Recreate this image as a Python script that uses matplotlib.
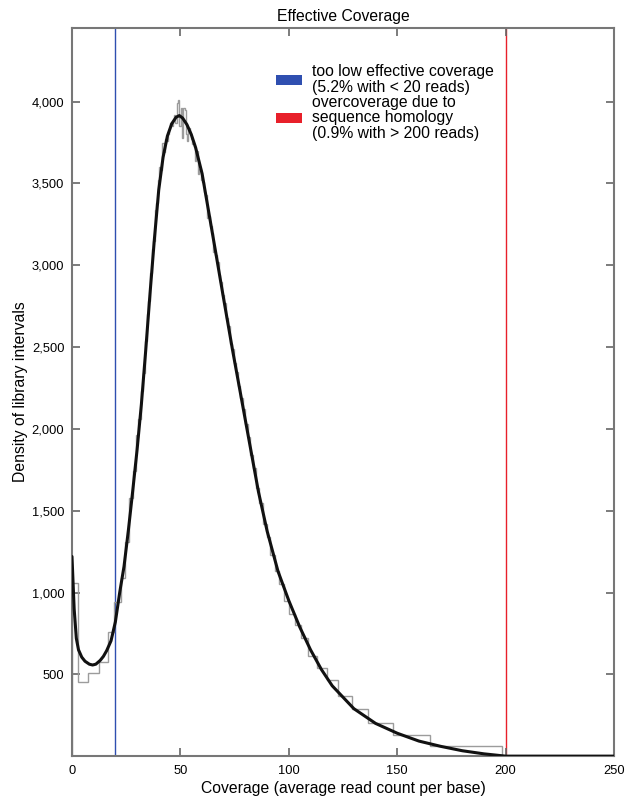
import matplotlib
matplotlib.use("Agg")
import matplotlib.pyplot as plt
from matplotlib.patches import Patch
from matplotlib.ticker import FuncFormatter

plt.rcParams['font.family'] = ['Liberation Sans', 'DejaVu Sans']

# histogram of interval coverage (variable-width bins)
bin_edges = [0, 2.8, 7.5, 12.5, 16.8, 19.6, 22.4, 24.6, 26.4, 28.0, 29.3,
             30.5, 31.6, 32.6, 33.5, 34.4, 35.2, 36.0, 36.8, 37.5, 38.2,
             38.9, 39.6, 40.3, 41.0, 41.7, 42.3, 42.9, 43.5, 44.1, 44.7,
             45.3, 45.9, 46.5, 47.1, 47.7, 48.3, 48.9, 49.5, 50.1, 50.7,
             51.3, 51.9, 52.5, 53.1, 53.7, 54.3, 54.9, 55.5, 56.1, 56.7,
             57.3, 58.0, 58.7, 59.4, 60.1, 60.8, 61.5, 62.2, 62.9, 63.6,
             64.4, 65.2, 66.0, 66.8, 67.6, 68.4, 69.2, 70.0, 70.9, 71.8,
             72.7, 73.6, 74.6, 75.6, 76.6, 77.6, 78.7, 79.8, 81.0, 82.2,
             83.5, 84.9, 86.4, 88.0, 89.7, 91.5, 93.4, 95.5, 97.7, 100.1,
             102.8, 105.7, 108.9, 112.9, 117.8, 122.8, 129.0, 136.7, 148.2,
             165.1, 198.2]
bin_heights = [1060, 455, 508, 577, 761, 944, 1090, 1310, 1580, 1740,
               1960, 2060, 2230, 2340, 2540, 2700, 2780, 2950, 3100, 3150,
               3340, 3380, 3520, 3600, 3580, 3750, 3690, 3770, 3760, 3800,
               3830, 3870, 3850, 3880, 3920, 3870, 3990, 4010, 3850, 3960,
               3780, 3960, 3950, 3800, 3760, 3840, 3800, 3770, 3740, 3720,
               3640, 3700, 3560, 3590, 3520, 3510, 3450, 3430, 3290, 3300,
               3240, 3200, 3080, 3060, 3020, 2940, 2900, 2820, 2770, 2680,
               2630, 2520, 2490, 2400, 2350, 2260, 2190, 2120, 2030, 1950,
               1840, 1760, 1640, 1550, 1420, 1340, 1230, 1130, 1050, 950,
               870, 800, 720, 610, 537, 465, 367, 291, 204, 128, 63]

# smoothed density estimate
curve_x = [0, 1, 2, 3, 4.5, 6, 8, 9.5, 11, 13, 14.5, 16, 18, 20, 22, 24,
           26, 28, 30, 32, 34, 36, 38, 40, 42, 44, 46, 48, 49.5, 51, 53,
           55, 57, 60, 63, 66, 70, 74, 78, 82, 86, 90, 95, 100, 105, 110,
           115, 120, 130, 140, 150, 160, 170, 180, 190, 200, 250]
curve_y = [1220, 900, 720, 650, 605, 580, 562, 557, 562, 585, 610, 645,
           705, 820, 1000, 1160, 1380, 1620, 1870, 2150, 2480, 2830, 3160,
           3460, 3660, 3790, 3865, 3905, 3915, 3900, 3860, 3800, 3720,
           3560, 3330, 3100, 2790, 2485, 2195, 1905, 1615, 1375, 1130, 950,
           790, 650, 530, 430, 290, 200, 140, 92, 60, 33, 14, 0, 0]

low_cut = 20
high_cut = 200
legend_labels = ["too low effective coverage\n(5.2% with < 20 reads)",
                 "overcoverage due to\nsequence homology\n(0.9% with > 200 reads)"]

blue = "#2f4fb0"
red = "#e8202a"

fig = plt.figure(figsize=(6.26, 8.01), dpi=100)
ax = fig.add_axes([0.115, 0.056, 0.866, 0.909])

ax.stairs(bin_heights, bin_edges, color="#9c9c9c", lw=1.0, zorder=2)
ax.plot(curve_x, curve_y, color="#111111", lw=2.2, zorder=3,
        solid_capstyle="round", solid_joinstyle="round")
ax.axvline(low_cut, color=blue, lw=1.0, zorder=1)
ax.axvline(high_cut, color=red, lw=1.0, zorder=1)

ax.set_xlim(0, 250)
ax.set_ylim(0, 4450)
ax.set_xticks([0, 50, 100, 150, 200, 250])
ax.set_yticks([500, 1000, 1500, 2000, 2500, 3000, 3500, 4000])
ax.yaxis.set_major_formatter(FuncFormatter(lambda v, p: f"{int(v):,}"))
ax.tick_params(direction="in", top=True, right=True, length=6, width=1.2,
               color="#666666", labelsize=9.3, pad=5.5)
ax.tick_params(axis="x", pad=6.5)
for s in ax.spines.values():
    s.set_color("#777777")
    s.set_linewidth(1.5)

ax.set_title("Effective Coverage", fontsize=11.3, pad=5)
ax.set_xlabel("Coverage (average read count per base)", fontsize=11.3,
              labelpad=2.5)
ax.set_ylabel("Density of library intervals", fontsize=11.3, labelpad=3)

handles = [Patch(facecolor=blue, edgecolor="none"),
           Patch(facecolor=red, edgecolor="none")]
leg = ax.legend(handles, legend_labels, loc="upper left",
                bbox_to_anchor=(0.377, 0.951), frameon=False, fontsize=11.3,
                handlelength=1.65, handleheight=0.62, handletextpad=0.62,
                labelspacing=0.0, borderpad=0, borderaxespad=0)
for t in leg.get_texts():
    t.set_linespacing(1.07)

fig.savefig("out.png", dpi=100)
